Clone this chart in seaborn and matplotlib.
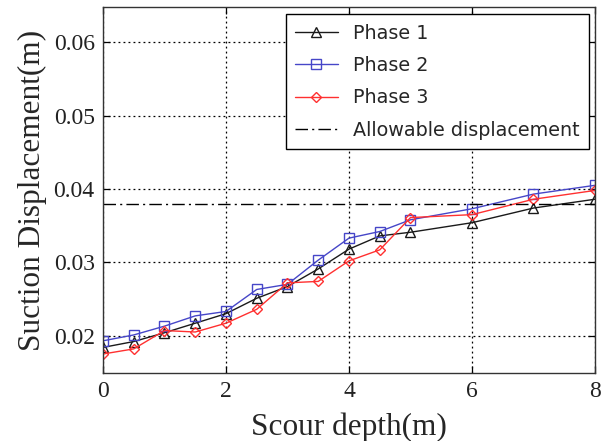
import matplotlib
matplotlib.use("Agg")
import matplotlib.pyplot as plt
import seaborn as sns
import pandas as pd

depth = [0, 0.5, 1, 1.5, 2, 2.5, 3, 3.5, 4, 4.5, 5, 6, 7, 8]
phase1 = [0.0184, 0.0192, 0.0204, 0.0217, 0.0230, 0.0251, 0.0267, 0.0291, 0.0318, 0.0336, 0.0341, 0.0354, 0.0374, 0.0386]
phase2 = [0.0193, 0.0201, 0.0213, 0.0227, 0.0233, 0.0263, 0.0270, 0.0303, 0.0333, 0.0342, 0.0358, 0.0373, 0.0393, 0.0405]
phase3 = [0.0175, 0.0182, 0.0207, 0.0205, 0.0217, 0.0236, 0.0272, 0.0274, 0.0302, 0.0317, 0.0361, 0.0365, 0.0386, 0.0398]
allowable = 0.038
series_names = ["Phase 1", "Phase 2", "Phase 3"]
allow_label = "Allowable displacement"
x_ticks = [0, 2, 4, 6, 8]
y_ticks = [0.02, 0.03, 0.04, 0.05, 0.06]

sns.set_style("white")
plt.rcParams["font.family"] = ["DejaVu Sans"]

fig = plt.figure(figsize=(6.08, 4.41), dpi=100)
ax = fig.add_axes([0.1694, 0.154, 0.8092, 0.830])

styles = [("^", "#1a1a1a"), ("s", "#4646c8"), ("D", "#ff3030")]
for name, vals, (mk, col) in zip(series_names, [phase1, phase2, phase3], styles):
    df = pd.DataFrame({"x": depth, "y": vals})
    sns.lineplot(data=df, x="x", y="y", ax=ax, color=col, linewidth=1.0,
                 marker=mk, markersize=7 if mk != "D" else 5.5,
                 markerfacecolor="none", markeredgecolor=col, markeredgewidth=1.0,
                 label=name)

adf = pd.DataFrame({"x": [depth[0], depth[-1]], "y": [allowable, allowable]})
sns.lineplot(data=adf, x="x", y="y", ax=ax, color="black", linewidth=1.0,
             linestyle=(0, (9, 3, 1.5, 3)), label=allow_label)

ax.set_xlim(0, 8)
ax.set_ylim(0.0149, 0.0648)
ax.set_xticks(x_ticks)
ax.set_yticks(y_ticks)
ax.set_xticklabels([str(t) for t in x_ticks], family="Liberation Serif", fontsize=17)
ax.set_yticklabels([f"{t:.2f}" for t in y_ticks], family="Liberation Serif", fontsize=17)
ax.grid(True, color="black", linestyle=(0, (1.5, 2.5)), linewidth=0.9)
ax.tick_params(direction="in", length=5, width=0.9, top=True, right=True,
               bottom=True, left=True, pad=6, colors="black")
for tl in ax.get_xticklabels() + ax.get_yticklabels():
    tl.set_color("#222222")
for s in ax.spines.values():
    s.set_color("#333333")
    s.set_linewidth(1.0)

ax.set_xlabel("Scour depth(m)", family="Liberation Serif", fontsize=22.5, labelpad=7)
ax.set_ylabel("Suction Displacement(m)", family="Liberation Serif", fontsize=22.5, labelpad=5)

leg = ax.legend(loc="upper right", bbox_to_anchor=(0.988, 0.981), fontsize=13.8,
                frameon=True, fancybox=False, edgecolor="black", framealpha=1,
                handlelength=2.2, handletextpad=0.8, labelspacing=0.7,
                borderpad=0.5, borderaxespad=0)
leg.get_frame().set_linewidth(1.0)

fig.savefig("out.png", dpi=100)
